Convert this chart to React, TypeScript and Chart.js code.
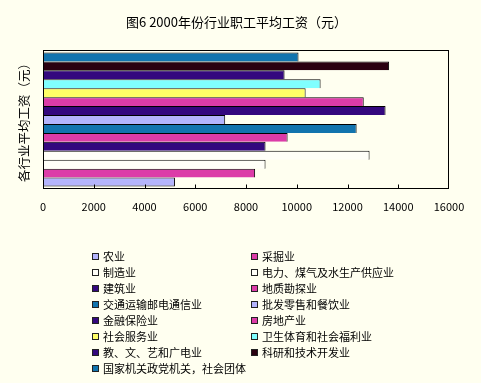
import React, { useEffect, useRef } from 'react';
import { Chart, registerables } from 'chart.js';

Chart.register(...registerables);

const FONT = "'Noto Sans CJK SC', 'DejaVu Sans', sans-serif";
const BG = '#fffff0';

const titleText = '图6 2000年份行业职工平均工资（元）';
const yTitle = '各行业平均工资（元）';

const industries = [
  '农业',
  '采掘业',
  '制造业',
  '电力、煤气及水生产供应业',
  '建筑业',
  '地质勘探业',
  '交通运输邮电通信业',
  '批发零售和餐饮业',
  '金融保险业',
  '房地产业',
  '社会服务业',
  '卫生体育和社会福利业',
  '教、文、艺和广电业',
  '科研和技术开发业',
  '国家机关政党机关，社会团体',
];

const wages = [5200, 8360, 8770, 12870, 8770, 9640, 12360, 7180, 13500, 12640, 10350, 10940, 9520, 13640, 10070];

const colors = [
  '#b4b4fc', '#dc3ca8', '#fffff8', '#fffff8', '#34087e',
  '#dc3ca8', '#1274ae', '#b4b4fc', '#34087e', '#dc3ca8',
  '#ffff66', '#80ffff', '#34087e', '#2a0010', '#1274ae',
];

const xMin = 0;
const xMax = 16000;
const xStep = 2000;

const framePlugin = {
  id: 'plotFrame',
  beforeDraw(chart: any) {
    const { ctx, width, height } = chart;
    ctx.save();
    ctx.fillStyle = BG;
    ctx.fillRect(0, 0, width, height);
    ctx.restore();
  },
  afterDatasetsDraw(chart: any) {
    const { ctx, chartArea: a, scales } = chart;
    const x = scales.x;
    ctx.save();
    ctx.strokeStyle = '#000';
    ctx.lineWidth = 1;
    const l = Math.round(a.left) + 0.5;
    const t = Math.round(a.top) + 0.5;
    const r = Math.round(a.right) - 0.5;
    const b = Math.round(a.bottom) - 0.5;
    ctx.strokeRect(l, t, r - l, b - t);
    ctx.beginPath();
    x.ticks.forEach((tk: any) => {
      const px = Math.min(Math.round(x.getPixelForValue(tk.value)) + 0.5, r);
      ctx.moveTo(px, b);
      ctx.lineTo(px, b - 4);
    });
    ctx.stroke();
    ctx.restore();
  },
};

export default function App() {
  const ref = useRef<HTMLCanvasElement>(null);

  useEffect(() => {
    document.body.style.margin = '0';
    document.body.style.background = BG;
    const n = industries.length;
    const order = industries.map((_, i) => n - 1 - i);
    const datasets = order.map((i) => ({
      label: industries[i],
      data: [wages[i]],
      backgroundColor: colors[i],
      borderColor: '#000',
      borderWidth: { top: 1, right: 1, left: 0, bottom: i === 0 ? 1 : 0 },
      borderSkipped: false as any,
      categoryPercentage: 0.964,
      barPercentage: 1,
    }));
    const chart = new Chart(ref.current!, {
      type: 'bar',
      data: { labels: [''], datasets },
      plugins: [framePlugin],
      options: {
        indexAxis: 'y',
        responsive: false,
        animation: false,
        layout: { padding: { top: 50, right: 32, bottom: 164, left: 0 } },
        plugins: {
          legend: { display: false },
          tooltip: { enabled: false },
          title: { display: false },
        },
        scales: {
          x: {
            min: xMin,
            max: xMax,
            ticks: {
              stepSize: xStep,
              color: '#000',
              font: { size: 11, family: FONT },
              padding: 11,
              maxRotation: 0,
              autoSkip: false,
              callback: (v: any) => String(v),
            },
            grid: { display: false, drawTicks: false },
            border: { display: false },
            afterFit: (s: any) => {
              s.height = 30;
            },
          },
          y: {
            grid: { display: false, drawTicks: false },
            border: { display: false },
            ticks: { display: false },
            title: {
              display: true,
              text: yTitle,
              color: '#000',
              font: { size: 12.5, family: FONT },
              padding: { top: 17, bottom: 0 },
            },
            afterFit: (s: any) => {
              s.width = 43;
            },
          },
        },
      },
    });
    return () => chart.destroy();
  }, []);

  return (
    <div style={{ position: 'relative', width: 481, height: 383, background: BG, fontFamily: FONT }}>
      <canvas ref={ref} width={481} height={383} style={{ position: 'absolute', left: 0, top: 0, width: 481, height: 383 }} />
      <div
        style={{
          position: 'absolute',
          left: 0,
          top: 13,
          width: 473,
          textAlign: 'center',
          fontSize: 13,
          lineHeight: '18px',
          color: '#000',
          whiteSpace: 'nowrap',
        }}
      >
        {titleText}
      </div>
      {industries.map((name, i) => {
        const col = i % 2;
        const row = Math.floor(i / 2);
        return (
          <div
            key={name}
            style={{
              position: 'absolute',
              left: col === 0 ? 92 : 251,
              top: 248 + row * 16,
              height: 16,
              display: 'flex',
              alignItems: 'center',
              fontSize: 11,
              color: '#000',
              whiteSpace: 'nowrap',
            }}
          >
            <span
              style={{
                display: 'inline-block',
                width: 5,
                height: 5,
                border: '1px solid #222',
                background: colors[i],
                marginRight: 4,
              }}
            />
            <span>{name}</span>
          </div>
        );
      })}
    </div>
  );
}
